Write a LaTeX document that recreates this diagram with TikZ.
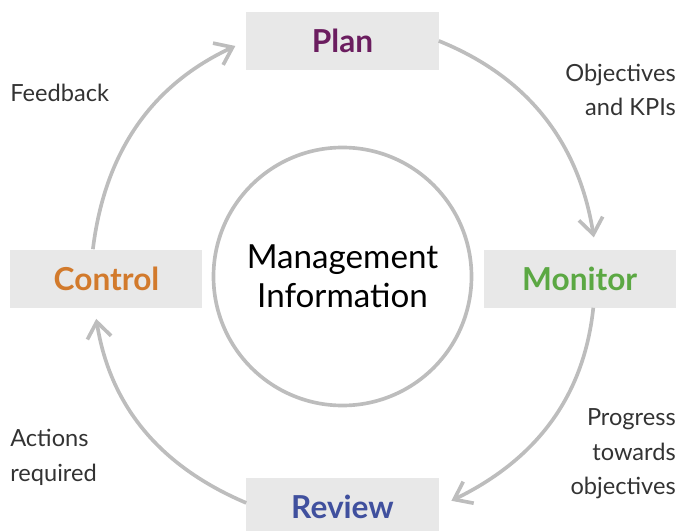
\documentclass[tikz,border=0pt]{standalone}
\usepackage{fontspec}
\setmainfont{Lato}
\usetikzlibrary{arrows.meta}

\definecolor{boxgray}{HTML}{E8E8E8}
\definecolor{ringgray}{HTML}{BDBDBD}
\definecolor{labelgray}{HTML}{333333}
\definecolor{planpurple}{HTML}{6B1D5F}
\definecolor{monitorgreen}{HTML}{5BA843}
\definecolor{reviewblue}{HTML}{40509E}
\definecolor{controlorange}{HTML}{D27A2C}

\begin{document}
\begin{tikzpicture}[
  stage/.style={
    fill=boxgray, minimum width=4.8cm, minimum height=1.45cm,
    text height=0.6cm, text depth=0cm,
    font=\fontsize{22.5}{26}\selectfont\bfseries
  },
  note/.style={
    text=labelgray, inner sep=0pt, font=\fontsize{16.8}{24.5}\selectfont
  },
  flow/.style={
    draw=ringgray, line width=2.6pt,
    -{Straight Barb[length=0.4cm, width=0.6cm]}
  },
]

\useasboundingbox (-8.5625, -6.2875) rectangle (8.3875, 6.9625);

% Centre circle
\node[circle, draw=ringgray, line width=2.6pt, minimum size=6.45cm,
  align=center, font=\fontsize{23.6}{27.5}\selectfont] (mi) at (0, 0.05)
  {Management\\Information};

% The four stages
\node[stage, text=planpurple]    (plan)    at (0, 5.94)  {Plan};
\node[stage, text=monitorgreen]  (monitor) at (5.93, 0)  {Monitor};
\node[stage, text=reviewblue]    (review)  at (0, -5.71) {Review};
\node[stage, text=controlorange] (control) at (-5.9, 0)  {Control};

% Cycle arrows
\draw[flow, shorten >=0.3cm] (plan.east)
  to[out=-22, in=99] ([xshift=0.4cm]monitor.north);
\draw[flow, shorten >=0.35cm] ([xshift=0.34cm]monitor.south)
  to[out=-96, in=26] (review.east);
\draw[flow, shorten >=0.28cm] ([yshift=0.1cm]review.west)
  to[out=157, in=-81] ([xshift=-0.3cm]control.south);
\draw[flow, shorten >=0.3cm] ([xshift=-0.34cm]control.north)
  to[out=83, in=-155] (plan.west);

% Arrow labels
\node[note, anchor=west] (feedback) at (-8.3125, 4.64) {Feedback};
\node[note, anchor=east, align=right] (objectives) at (8.3375, 4.72)
  {Objectives\\and KPIs};
\node[note, anchor=east, align=right] (progress) at (8.3375, -4.39)
  {Progress\\towards\\objectives};
\node[note, anchor=west, align=left] (actions) at (-8.3125, -4.47)
  {Actions\\required};

\end{tikzpicture}
\end{document}
